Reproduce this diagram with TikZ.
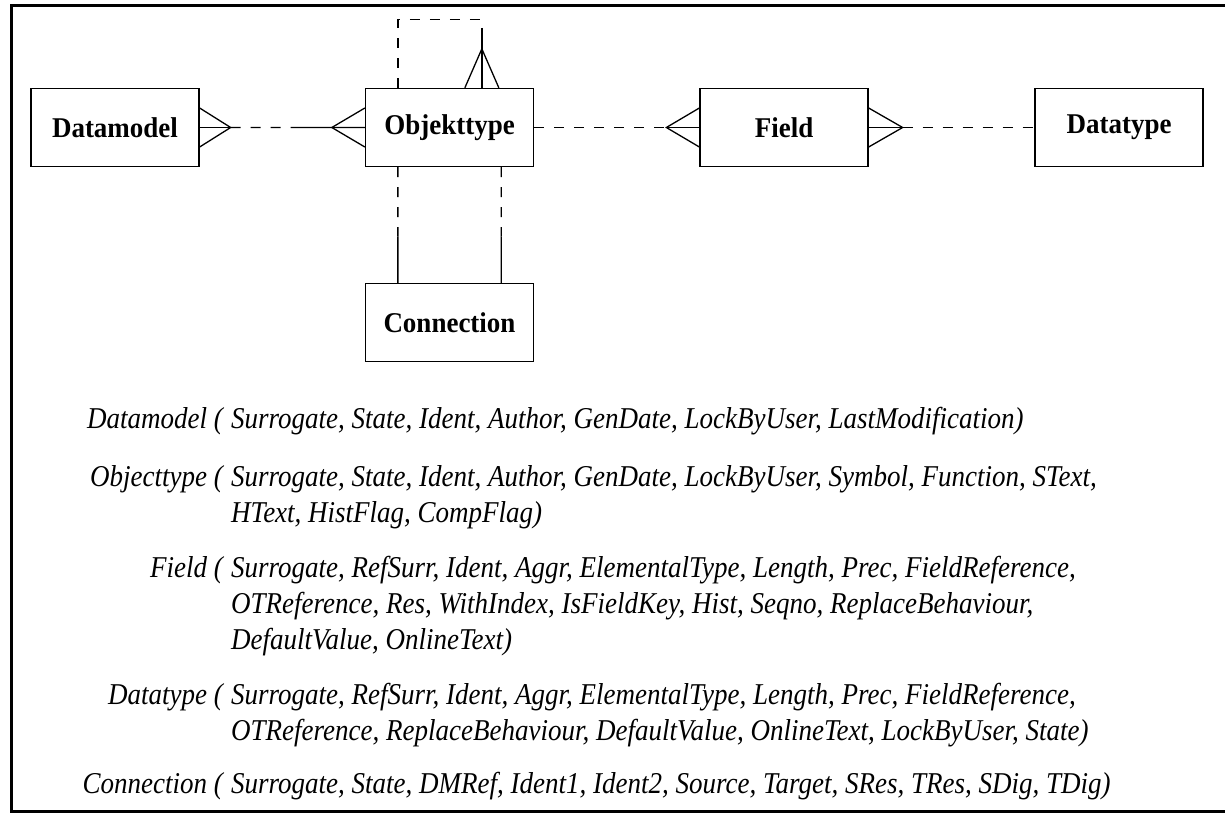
\documentclass[tikz,border=0pt]{standalone}
\usepackage{fontspec}
\setmainfont{Liberation Serif}
\usetikzlibrary{calc}

% slightly tall, narrow lettering
\newcommand{\tallbold}[1]{\scalebox{1}[1.06]{#1}}
\newcommand{\tallital}[1]{\scalebox{1}[1.12]{#1}}

\tikzset{
  entity/.style={draw, line width=1.3pt, minimum width=168pt, minimum height=78pt,
    inner sep=0pt, font=\bfseries\fontsize{27}{27}\selectfont},
  conn/.style={line width=1.3pt},
  opt/.style={conn, dash pattern=on 10pt off 10pt},
  frameline/.style={line width=3pt},
  relname/.style={anchor=base east, inner sep=0pt, font=\itshape\fontsize{27}{27}\selectfont},
  attr/.style={anchor=base west, inner sep=0pt, font=\itshape\fontsize{27}{27}\selectfont},
}

\begin{document}
\begin{tikzpicture}[x=1pt, y=-1pt]
\useasboundingbox (0,0) rectangle (1225,816);

% outer frame, open on the right
\draw[frameline] (1225,6) -- (11,6) -- (11,811) -- (1225,811);

% entities
\node[entity] (dm) at (115,127.5) {\tallbold{Datamodel}};
\node[entity] (ot) at (449.5,127.5) {\tallbold{Objekttype}};
\node[entity] (fd) at (784,127.5) {\tallbold{Field}};
\node[entity] (dt) at (1119,127.5) {\tallbold{Datatype}};
\node[entity] (cn) at (449.5,322.5) {\tallbold{Connection}};

% Datamodel -- Objekttype (crow's feet on both ends)
\coordinate (dmA) at ($(dm.east)+(31,0)$);
\coordinate (otA) at ($(ot.west)+(-33,0)$);
\coordinate (dmot) at ($(dm.east)!0.55!(ot.west)$);
\draw[conn] ($(dm.east)+(0,-19.5)$) -- (dmA) -- ($(dm.east)+(0,19.5)$);
\draw[conn] (dm.east) -- (dmA);
\draw[opt] (dmA) -- (dmot);
\draw[conn] (dmot) -- (ot.west);
\draw[conn] ($(ot.west)+(0,-19.5)$) -- (otA) -- ($(ot.west)+(0,19.5)$);

% Objekttype -- Field
\coordinate (fdA) at ($(fd.west)+(-33,0)$);
\draw[opt] (ot.east) -- (fdA);
\draw[conn] (fdA) -- (fd.west);
\draw[conn] ($(fd.west)+(0,-19.5)$) -- (fdA) -- ($(fd.west)+(0,19.5)$);

% Field -- Datatype
\coordinate (fdB) at ($(fd.east)+(34,0)$);
\draw[conn] (fd.east) -- (fdB);
\draw[conn] ($(fd.east)+(0,-19.5)$) -- (fdB) -- ($(fd.east)+(0,19.5)$);
\draw[opt] (fdB) -- (dt.west);

% Objekttype self relationship
\coordinate (l0) at ($(ot.north west)+(33,0)$);
\coordinate (l1) at ($(ot.north west)+(33,-68)$);
\coordinate (r0) at ($(ot.north west)+(117,0)$);
\coordinate (r1) at ($(ot.north west)+(117,-68)$);
\coordinate (r2) at ($(ot.north west)+(117,-50)$);
\coordinate (rA) at ($(ot.north west)+(117,-39)$);
\draw[opt] (l0) -- (l1) -- (r1) -- (r2);
\draw[conn] (r2) -- (r0);
\draw[conn] ($(r0)+(-17,0)$) -- (rA) -- ($(r0)+(17,0)$);

% Objekttype -- Connection (source and target)
\coordinate (s0) at ($(ot.south west)+(33,0)$);
\coordinate (s1) at (s0 |- cn.north);
\coordinate (sm) at ($(s0)!0.6!(s1)$);
\coordinate (t0) at ($(ot.south east)+(-33,0)$);
\coordinate (t1) at (t0 |- cn.north);
\coordinate (tm) at ($(t0)!0.6!(t1)$);
\draw[opt] (s0) -- (sm);
\draw[conn] (sm) -- (s1);
\draw[opt] (t0) -- (tm);
\draw[conn] (tm) -- (t1);

% relation schemas
\node[relname] (rdm) at (223,428) {\tallital{Datamodel (}};
\node[attr] (adm) at (231,428) {\tallital{Surrogate, State, Ident, Author, GenDate, LockByUser, LastModification)}};

\node[relname] (rot) at (223,486) {\tallital{Objecttype (}};
\node[attr] (aot1) at (231,486) {\tallital{Surrogate, State, Ident, Author, GenDate, LockByUser, Symbol, Function, SText,}};
\node[attr] (aot2) at (231,522) {\tallital{HText, HistFlag, CompFlag)}};

\node[relname] (rfd) at (223,577) {\tallital{Field (}};
\node[attr] (afd1) at (231,577) {\tallital{Surrogate, RefSurr, Ident, Aggr, ElementalType, Length, Prec, FieldReference,}};
\node[attr] (afd2) at (231,613) {\tallital{OTReference, Res, WithIndex, IsFieldKey, Hist, Seqno, ReplaceBehaviour,}};
\node[attr] (afd3) at (231,649) {\tallital{DefaultValue, OnlineText)}};

\node[relname] (rdt) at (223,704) {\tallital{Datatype (}};
\node[attr] (adt1) at (231,704) {\tallital{Surrogate, RefSurr, Ident, Aggr, ElementalType, Length, Prec, FieldReference,}};
\node[attr] (adt2) at (231,740) {\tallital{OTReference, ReplaceBehaviour, DefaultValue, OnlineText, LockByUser, State)}};

\node[relname] (rcn) at (223,793) {\tallital{Connection (}};
\node[attr] (acn) at (231,793) {\tallital{Surrogate, State, DMRef, Ident1, Ident2, Source, Target, SRes, TRes, SDig, TDig)}};
\end{tikzpicture}
\end{document}
